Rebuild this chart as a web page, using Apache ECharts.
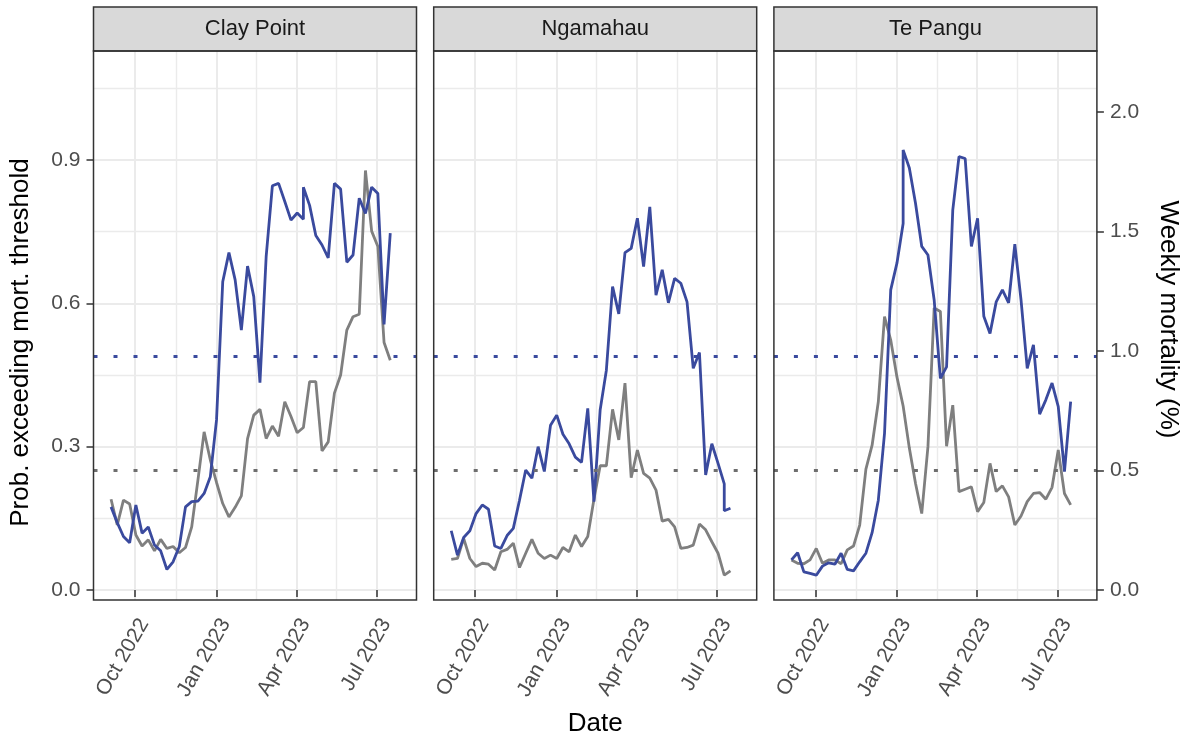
<!DOCTYPE html>
<html><head><meta charset="utf-8">
<script src="https://cdn.jsdelivr.net/npm/echarts@6/dist/echarts.min.js"></script>
<style>html,body{margin:0;padding:0;background:#fff}#c{width:1183px;height:740px}</style>
</head><body><div id="c"></div>
<script>
// ---------------- data ----------------
const panels = ['Clay Point', 'Ngamahau', 'Te Pangu'];
const weeks = ['2022-09-04','2022-09-11','2022-09-18','2022-09-25','2022-10-02','2022-10-09','2022-10-16','2022-10-23','2022-10-30',
  '2022-11-06','2022-11-13','2022-11-20','2022-11-27','2022-12-04','2022-12-11','2022-12-18','2022-12-25',
  '2023-01-01','2023-01-08','2023-01-15','2023-01-22','2023-01-29','2023-02-05','2023-02-12','2023-02-19','2023-02-26',
  '2023-03-05','2023-03-12','2023-03-19','2023-03-26','2023-04-02','2023-04-09','2023-04-16','2023-04-23','2023-04-30',
  '2023-05-07','2023-05-14','2023-05-21','2023-05-28','2023-06-04','2023-06-11','2023-06-18','2023-06-25',
  '2023-07-02','2023-07-09','2023-07-16'];
// each site has one week that appears twice in the record
const repeatedWeek = ['2023-04-09', '2023-07-09', '2023-01-08'];

const clayProb = [0.174,0.141,0.112,0.099,0.178,0.119,0.132,0.094,0.082,0.043,
  0.059,0.091,0.174,0.185,0.186,0.202,0.237,0.356,0.645,0.706,
  0.649,0.544,0.678,0.614,0.434,0.698,0.846,0.851,0.813,0.774,
  0.789,0.776,0.843,
  0.805,0.742,0.722,0.695,0.851,0.839,0.686,0.701,0.820,0.788,0.843,0.830,0.556,0.747];
const clayMort = [0.38,0.272,0.376,0.36,0.23,0.184,0.21,0.164,0.212,0.174,
  0.182,0.156,0.178,0.264,0.46,0.662,0.544,0.45,0.362,0.306,
  0.346,0.394,0.634,0.732,0.756,0.634,0.686,0.644,0.788,0.726,
  0.658,0.68,0.68,
  0.872,0.872,0.582,0.62,0.824,0.90,1.088,1.144,1.154,1.756,1.502,1.438,1.036,0.962];

const ngaProb = [0.124,0.073,0.110,0.124,0.160,0.178,0.169,0.092,0.087,0.114,
  0.129,0.188,0.251,0.234,0.300,0.248,0.345,0.366,0.326,0.306,
  0.278,0.267,0.380,0.185,0.377,0.460,0.635,0.578,0.706,0.715,
  0.778,0.677,0.802,0.617,0.670,0.601,0.652,0.642,0.603,0.464,
  0.497,0.241,0.306,0.265,0.222,0.166,0.171];
const ngaMort = [0.128,0.132,0.216,0.132,0.098,0.112,0.108,0.084,0.16,0.17,
  0.196,0.094,0.154,0.212,0.154,0.132,0.146,0.132,0.178,0.16,
  0.23,0.182,0.224,0.38,0.52,0.52,0.756,0.628,0.866,0.47,
  0.586,0.488,0.468,0.418,0.288,0.296,0.264,0.174,0.178,0.188,
  0.276,0.252,0.202,0.154,0.062,0.062,0.08];

const tpProb = [0.063,0.078,0.038,0.035,0.031,0.050,0.057,0.054,0.077,0.043,
  0.040,0.059,0.077,0.120,0.188,0.328,0.628,0.684,0.767,0.921,
  0.883,0.809,0.719,0.701,0.607,0.443,0.467,0.795,0.907,0.903,
  0.719,0.778,0.573,0.537,0.603,0.628,0.601,0.724,0.607,0.464,
  0.513,0.368,0.398,0.433,0.384,0.248,0.394];
const tpMort = [0.126,0.112,0.11,0.126,0.174,0.112,0.126,0.126,0.11,0.168,
  0.184,0.272,0.506,0.606,0.788,1.144,1.046,0.892,0.77,0.77,
  0.594,0.446,0.32,0.60,1.18,1.166,0.602,0.774,0.412,0.422,
  0.432,0.328,0.366,0.53,0.412,0.436,0.39,0.272,0.31,0.37,
  0.404,0.408,0.38,0.43,0.586,0.404,0.356];

const probSeries = [clayProb, ngaProb, tpProb];
const mortSeries = [clayMort, ngaMort, tpMort];

const tickDates = ['2022-10-01','2023-01-01','2023-04-01','2023-07-01'];
const minorDates = ['2022-11-16','2023-02-15','2023-05-16T12:00:00'];
const probTicks = [0, 0.3, 0.6, 0.9];
const probMinor = [0.15, 0.45, 0.75, 1.05];
const mortTicks = [0, 0.5, 1.0, 1.5, 2.0];
const probThreshold = 0.49;
const mortThreshold = 0.5;

// ---------------- layout / style ----------------
const BLUE = '#3a4a9e', GREY = '#7f7f7f';
const FONT = '"Liberation Sans", Arial, Helvetica, sans-serif';
const LEFTS = [93.5, 433.7, 773.9], W = 323, TOP = 51, H = 549, STRIP_TOP = 7;
const DAY = 86400000;
const ts = s => Date.parse(s.length === 10 ? s + 'T00:00:00Z' : s + 'Z');
const xMin = ts('2022-10-01') - 46.8 * DAY;
const xMax = ts('2023-07-01') + 44.6 * DAY;
const yMin = -0.0209, yMax = 1.128;
const MON = ['Jan','Feb','Mar','Apr','May','Jun','Jul','Aug','Sep','Oct','Nov','Dec'];
const fmtDate = v => { const d = new Date(v); return MON[d.getUTCMonth()] + ' ' + d.getUTCFullYear(); };

const grids = [], xAxes = [], yAxes = [], series = [], graphics = [];
panels.forEach((name, i) => {
  grids.push({left: LEFTS[i], top: TOP, width: W, height: H, show: true,
    backgroundColor: '#fff', borderWidth: 0, containLabel: false, outerBoundsMode: 'none'});
  // major x
  xAxes.push({type: 'value', gridIndex: i, min: xMin, max: xMax, position: 'bottom',
    axisLine: {show: false},
    axisTick: {show: true, customValues: tickDates.map(ts), length: 7, lineStyle: {color: '#333', width: 1.5}},
    axisLabel: {show: true, customValues: tickDates.map(ts), formatter: fmtDate, rotate: 60,
      align: 'right', verticalAlign: 'top', margin: 15, fontSize: 21, color: '#4d4d4d', fontFamily: FONT},
    splitLine: {show: true, lineStyle: {color: '#ebebeb', width: 2}},
    name: i === 1 ? 'Date' : '', nameLocation: 'middle', nameGap: 111,
    nameTextStyle: {fontSize: 26, color: '#000', fontFamily: FONT}});
  // minor x (grid lines only)
  xAxes.push({type: 'value', gridIndex: i, min: xMin, max: xMax, position: 'top',
    axisLine: {show: false}, axisTick: {show: false, customValues: minorDates.map(ts)},
    axisLabel: {show: false}, splitLine: {show: true, lineStyle: {color: '#ebebeb', width: 1.4}}});
  // left prob axis
  yAxes.push({type: 'value', gridIndex: i, min: yMin, max: yMax, position: 'left',
    axisLine: {show: false},
    axisTick: {show: i === 0, customValues: probTicks, length: 7, lineStyle: {color: '#333', width: 1.5}},
    axisLabel: {show: i === 0, customValues: probTicks, formatter: v => v.toFixed(1), margin: 13,
      fontSize: 21, color: '#4d4d4d', fontFamily: FONT},
    splitLine: {show: true, lineStyle: {color: '#ebebeb', width: 2}},
    name: i === 0 ? 'Prob. exceeding mort. threshold' : '', nameLocation: 'middle', nameGap: 60,
    nameTextStyle: {fontSize: 26, color: '#000', fontFamily: FONT, padding: [0, 34, 0, 0]}});
  // minor y (grid lines only)
  yAxes.push({type: 'value', gridIndex: i, min: yMin, max: yMax, position: 'left',
    axisLine: {show: false}, axisTick: {show: false, customValues: probMinor},
    axisLabel: {show: false}, splitLine: {show: true, lineStyle: {color: '#ebebeb', width: 1.4}}});
  // right mortality axis
  yAxes.push({type: 'value', gridIndex: i, min: 2 * yMin, max: 2 * yMax, position: 'right',
    axisLine: {show: false},
    axisTick: {show: i === 2, customValues: mortTicks, length: 7, lineStyle: {color: '#333', width: 1.5}},
    axisLabel: {show: i === 2, customValues: mortTicks, formatter: v => v.toFixed(1), margin: 13,
      fontSize: 21, color: '#4d4d4d', fontFamily: FONT},
    splitLine: {show: false},
    name: i === 2 ? 'Weekly mortality (%)' : '', nameLocation: 'middle', nameRotate: -90, nameGap: 58,
    nameTextStyle: {fontSize: 26, color: '#000', fontFamily: FONT, padding: [0, 12, 0, 0]}});

  const dates = weeks.flatMap(w => w === repeatedWeek[i] ? [w, w] : [w]).map(ts);
  series.push({type: 'line', xAxisIndex: 2 * i, yAxisIndex: 3 * i + 2, z: 3,
    data: dates.map((d, k) => [d, mortSeries[i][k]]), showSymbol: false, symbol: 'none',
    lineStyle: {color: GREY, width: 2.8}, animation: false,
    markLine: {silent: true, symbol: 'none', label: {show: false}, animation: false,
      lineStyle: {color: '#6e6e6e', width: 3.2, type: [4, 16]}, data: [{yAxis: mortThreshold}]}});
  series.push({type: 'line', xAxisIndex: 2 * i, yAxisIndex: 3 * i, z: 4,
    data: dates.map((d, k) => [d, probSeries[i][k]]), showSymbol: false, symbol: 'none',
    lineStyle: {color: BLUE, width: 2.8}, animation: false,
    markLine: {silent: true, symbol: 'none', label: {show: false}, animation: false,
      lineStyle: {color: BLUE, width: 3.2, type: [4, 16]}, data: [{yAxis: probThreshold}]}});

  // strip + panel border
  graphics.push({type: 'rect', z: 100, shape: {x: LEFTS[i], y: STRIP_TOP, width: W, height: TOP - STRIP_TOP},
    style: {fill: '#d9d9d9', stroke: '#333', lineWidth: 1.5}});
  graphics.push({type: 'text', z: 101, x: LEFTS[i] + W / 2, y: (STRIP_TOP + TOP) / 2,
    style: {text: name, fill: '#1a1a1a', font: '22px ' + FONT, textAlign: 'center', textVerticalAlign: 'middle'}});
  graphics.push({type: 'rect', z: 100, shape: {x: LEFTS[i], y: TOP, width: W, height: H},
    style: {fill: 'none', stroke: '#333', lineWidth: 1.5}});
});

const chart = echarts.init(document.getElementById('c'), null, {renderer: 'canvas'});
chart.setOption({
  animation: false,
  backgroundColor: '#fff',
  textStyle: {fontFamily: FONT},
  grid: grids, xAxis: xAxes, yAxis: yAxes, series: series, graphic: graphics
});
</script></body></html>
